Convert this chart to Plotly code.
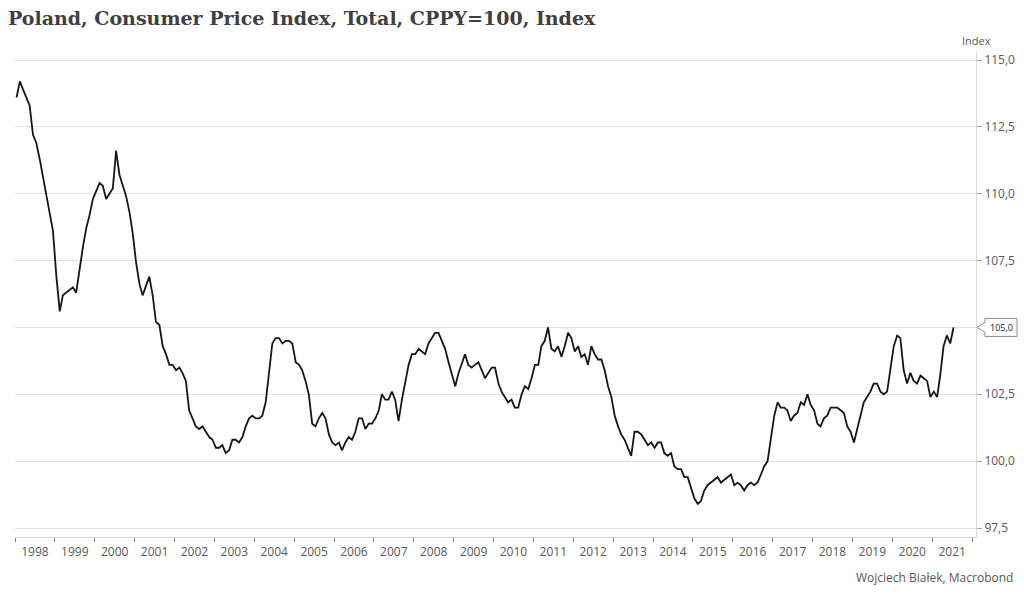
import plotly.graph_objects as go

# ---- data: Poland CPI y/y, previous year = 100, monthly Jan 1998 - Jul 2021
start_year = 1998
cpi = [
    # 1998
    113.6, 114.2, 113.9, 113.6, 113.3, 112.2, 111.9, 111.3, 110.6, 109.9, 109.2, 108.6,
    # 1999
    106.9, 105.6, 106.2, 106.3, 106.4, 106.5, 106.3, 107.2, 108.0, 108.7, 109.2, 109.8,
    # 2000
    110.1, 110.4, 110.3, 109.8, 110.0, 110.2, 111.6, 110.7, 110.3, 109.9, 109.3, 108.5,
    # 2001
    107.4, 106.6, 106.2, 106.6, 106.9, 106.2, 105.2, 105.1, 104.3, 104.0, 103.6, 103.6,
    # 2002
    103.4, 103.5, 103.3, 103.0, 101.9, 101.6, 101.3, 101.2, 101.3, 101.1, 100.9, 100.8,
    # 2003
    100.5, 100.5, 100.6, 100.3, 100.4, 100.8, 100.8, 100.7, 100.9, 101.3, 101.6, 101.7,
    # 2004
    101.6, 101.6, 101.7, 102.2, 103.4, 104.4, 104.6, 104.6, 104.4, 104.5, 104.5, 104.4,
    # 2005
    103.7, 103.6, 103.4, 103.0, 102.5, 101.4, 101.3, 101.6, 101.8, 101.6, 101.0, 100.7,
    # 2006
    100.6, 100.7, 100.4, 100.7, 100.9, 100.8, 101.1, 101.6, 101.6, 101.2, 101.4, 101.4,
    # 2007
    101.6, 101.9, 102.5, 102.3, 102.3, 102.6, 102.3, 101.5, 102.3, 103.0, 103.6, 104.0,
    # 2008
    104.0, 104.2, 104.1, 104.0, 104.4, 104.6, 104.8, 104.8, 104.5, 104.2, 103.7, 103.3,
    # 2009
    102.8, 103.3, 103.6, 104.0, 103.6, 103.5, 103.6, 103.7, 103.4, 103.1, 103.3, 103.5,
    # 2010
    103.5, 102.9, 102.6, 102.4, 102.2, 102.3, 102.0, 102.0, 102.5, 102.8, 102.7, 103.1,
    # 2011
    103.6, 103.6, 104.3, 104.5, 105.0, 104.2, 104.1, 104.3, 103.9, 104.3, 104.8, 104.6,
    # 2012
    104.1, 104.3, 103.9, 104.0, 103.6, 104.3, 104.0, 103.8, 103.8, 103.4, 102.8, 102.4,
    # 2013
    101.7, 101.3, 101.0, 100.8, 100.5, 100.2, 101.1, 101.1, 101.0, 100.8, 100.6, 100.7,
    # 2014
    100.5, 100.7, 100.7, 100.3, 100.2, 100.3, 99.8, 99.7, 99.7, 99.4, 99.4, 99.0,
    # 2015
    98.6, 98.4, 98.5, 98.9, 99.1, 99.2, 99.3, 99.4, 99.2, 99.3, 99.4, 99.5,
    # 2016
    99.1, 99.2, 99.1, 98.9, 99.1, 99.2, 99.1, 99.2, 99.5, 99.8, 100.0, 100.8,
    # 2017
    101.7, 102.2, 102.0, 102.0, 101.9, 101.5, 101.7, 101.8, 102.2, 102.1, 102.5, 102.1,
    # 2018
    101.9, 101.4, 101.3, 101.6, 101.7, 102.0, 102.0, 102.0, 101.9, 101.8, 101.3, 101.1,
    # 2019
    100.7, 101.2, 101.7, 102.2, 102.4, 102.6, 102.9, 102.9, 102.6, 102.5, 102.6, 103.4,
    # 2020
    104.3, 104.7, 104.6, 103.4, 102.9, 103.3, 103.0, 102.9, 103.2, 103.1, 103.0, 102.4,
    # 2021
    102.6, 102.4, 103.2, 104.3, 104.7, 104.4, 105.0,
]
dates = [f"{start_year + i // 12}-{i % 12 + 1:02d}-15" for i in range(len(cpi))]

y_ticks = [97.5, 100.0, 102.5, 105.0, 107.5, 110.0, 112.5, 115.0]

title_text = "<b>Poland, Consumer Price Index, Total, CPPY=100, Index</b>"
unit_text = "Index"
source_text = "Wojciech Białek, Macrobond"

def fmt(v):
    return f"{v:.1f}".replace(".", ",")

last = cpi[-1]
# the tick label hidden behind the last-value callout is left blank
y_ticktext = ["" if abs(v - last) < 0.3 else fmt(v) for v in y_ticks]

# ---- layout geometry (pixels)
W, H = 1024, 594
L, R, T, B = 15, 976, 51, 537
pw, ph = R - L, B - T

def px_x(x):
    return (x - L) / pw

def px_y(y):
    return (B - y) / ph

fig = go.Figure()
fig.add_trace(go.Scatter(
    x=dates, y=cpi, mode="lines",
    line=dict(color="#151515", width=1.8),
    hoverinfo="x+y", showlegend=False,
))

# callout marker for last value
fig.add_shape(
    type="path", xref="paper", yref="y",
    xsizemode="pixel", ysizemode="pixel",
    xanchor=1, yanchor=last,
    path="M 1,0 L 9,5 L 9,9 L 41,9 L 41,-9 L 9,-9 L 9,-5 Z",
    line=dict(color="#8c8c8c", width=1), fillcolor="white",
)
fig.add_annotation(
    xref="paper", yref="y", x=1, y=last, xshift=25,
    text=fmt(last), showarrow=False,
    font=dict(family="Open Sans", size=9, color="#262626"),
    xanchor="center", yanchor="middle",
)
fig.add_annotation(
    xref="paper", yref="paper", x=px_x(977), y=px_y(41),
    text=unit_text, showarrow=False,
    font=dict(family="Open Sans", size=11, color="#595959"),
    xanchor="center", yanchor="middle",
)
fig.add_annotation(
    xref="paper", yref="paper", x=px_x(1015), y=px_y(577),
    text=source_text, showarrow=False,
    font=dict(family="Open Sans", size=12, color="#595959"),
    xanchor="right", yanchor="middle",
)

fig.update_layout(
    width=W, height=H,
    margin=dict(l=L, r=W - R, t=T, b=H - B, autoexpand=False),
    paper_bgcolor="white", plot_bgcolor="white",
    separators=",.",
    title=dict(
        text=title_text, x=8 / W, xanchor="left", xref="container",
        y=1 - 18 / H, yanchor="middle", yref="container",
        font=dict(family="DejaVu Serif", size=19, color="#404040"),
    ),
    xaxis=dict(
        type="date",
        range=["1998-01-01", "2022-02-06"],
        tick0="1998-01-01", dtick="M12", tickformat="%Y",
        ticklabelmode="period",
        ticks="outside", ticklen=4, tickcolor="#7f7f7f", tickwidth=1,
        showgrid=False, showline=True, linecolor="#dcdcdc", linewidth=1,
        tickfont=dict(family="Open Sans", size=12, color="#595959"),
        zeroline=False,
    ),
    yaxis=dict(
        side="right",
        range=[97.5 - 9 / 26.74, 115.0 + 9 / 26.74],
        tickvals=y_ticks, ticktext=y_ticktext,
        ticks="outside", ticklen=5, tickcolor="#a6a6a6",
        showgrid=True, gridcolor="#e3e3e3", gridwidth=1,
        showline=True, linecolor="#dcdcdc", linewidth=1,
        tickfont=dict(family="Open Sans", size=12, color="#595959"),
        zeroline=False,
    ),
)

fig.write_html("out.html")
